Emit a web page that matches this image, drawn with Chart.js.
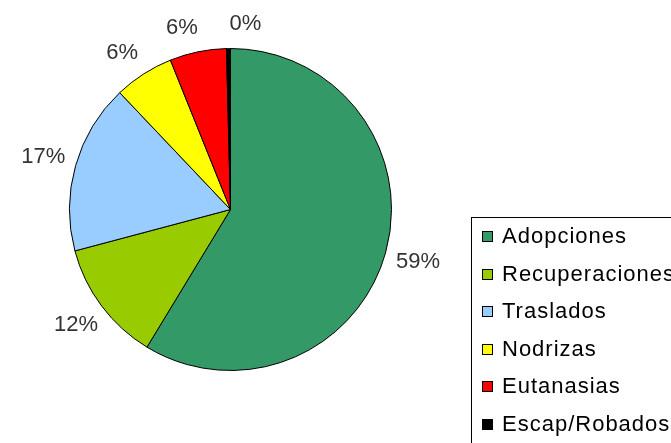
<!DOCTYPE html>
<html>
<head>
<meta charset="utf-8">
<script src="https://cdn.jsdelivr.net/npm/chart.js@4/dist/chart.umd.min.js"></script>
<style>
  html, body { margin: 0; padding: 0; background: #fff; }
  #wrap { width: 671px; height: 443px; position: relative; }
</style>
</head>
<body>
<div id="wrap"><canvas id="pieChart"></canvas></div>
<script>
const labels = ["Adopciones", "Recuperaciones", "Traslados", "Nodrizas", "Eutanasias", "Escap/Robados"];
const values = [58.8, 12.2, 17.1, 6.0, 5.7, 0.4];
const colors = ["#339966", "#99cc00", "#99ccff", "#ffff00", "#ff0000", "#000000"];

// percent labels outside each slice, pushed apart when too close
const outsideLabels = {
    id: 'outsideLabels',
    afterDatasetsDraw(chart) {
        const ctx = chart.ctx;
        const total = values.reduce((a, v) => a + v, 0);
        const arcs = chart.getDatasetMeta(0).data;
        const r = arcs[0].outerRadius;
        const angles = arcs.map(a => (a.startAngle + a.endAngle) / 2);
        const minGap = 64 / (r + 26);
        for (let k = 0; k < 5; k++) {
            for (let i = 0; i < angles.length - 1; i++) {
                const d = angles[i + 1] - angles[i];
                if (d < minGap) {
                    const push = (minGap - d) / 2;
                    angles[i] -= push;
                    angles[i + 1] += push;
                }
            }
        }
        ctx.save();
        ctx.font = '22px "Liberation Sans", Arial, sans-serif';
        ctx.fillStyle = '#333';
        ctx.textAlign = 'center';
        ctx.textBaseline = 'middle';
        arcs.forEach((arc, i) => {
            // wider labels sit further out at the sides
            const dist = r + 24 + 10 * Math.abs(Math.cos(angles[i]));
            const x = arc.x + Math.cos(angles[i]) * dist;
            const y = arc.y + Math.sin(angles[i]) * dist;
            ctx.fillText(Math.round(values[i] / total * 100) + '%', x, y);
        });
        ctx.restore();
    }
};

// boxed legend at the lower right
const boxLegend = {
    id: 'boxLegend',
    afterDraw(chart) {
        const ctx = chart.ctx;
        ctx.save();
        ctx.strokeStyle = '#000';
        ctx.lineWidth = 1;
        ctx.strokeRect(471.5, 217.5, 300, 300);
        ctx.font = '22px "Liberation Sans", Arial, sans-serif';
        ctx.letterSpacing = '1px';
        ctx.textBaseline = 'middle';
        labels.forEach((label, i) => {
            const y = 236 + i * 37.6;
            ctx.fillStyle = colors[i];
            ctx.fillRect(482, Math.round(y - 5), 11, 11);
            ctx.strokeStyle = '#000';
            ctx.strokeRect(482.5, Math.round(y - 5) + 0.5, 10, 10);
            ctx.fillStyle = '#000';
            ctx.fillText(label, 502, y + 1);
        });
        ctx.restore();
    }
};

document.addEventListener("DOMContentLoaded", function () {
    const ctx = document.getElementById('pieChart').getContext('2d');
    new Chart(ctx, {
        type: 'pie',
        data: {
            labels: labels,
            datasets: [{
                data: values,
                backgroundColor: colors,
                borderColor: '#000',
                borderWidth: 1
            }]
        },
        options: {
            responsive: true,
            maintainAspectRatio: false,
            animation: false,
            layout: { padding: { left: 69, right: 279, top: 48, bottom: 72 } },
            plugins: {
                legend: { display: false },
                tooltip: { enabled: false }
            }
        },
        plugins: [outsideLabels, boxLegend]
    });
});
</script>
</body>
</html>
